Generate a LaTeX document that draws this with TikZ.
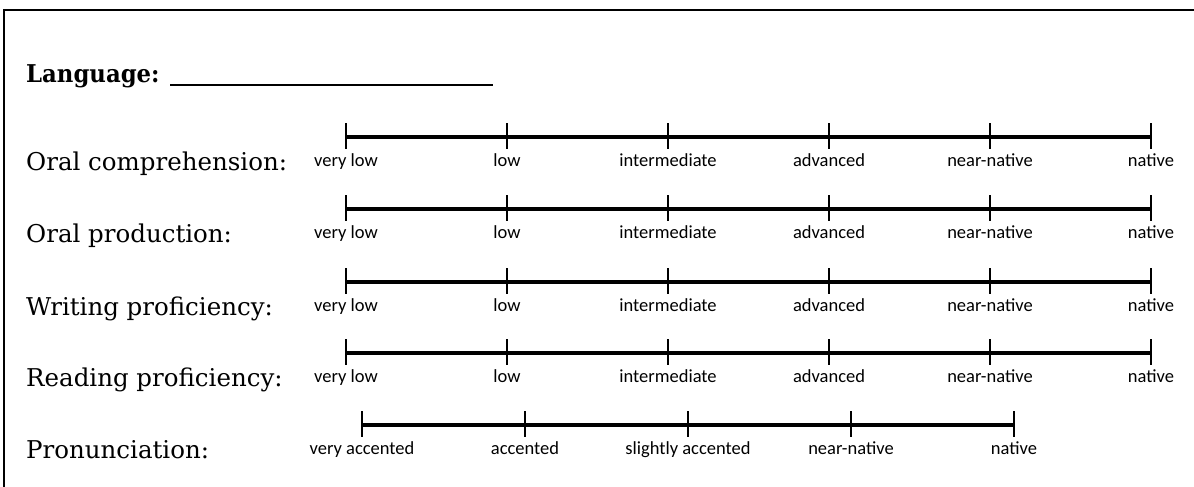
\documentclass[tikz,border=0pt]{standalone}
\usepackage{fontspec}
\setmainfont{DejaVu Serif}
\newfontfamily\calib{Carlito}
\begin{document}
\begin{tikzpicture}[x=1pt,y=-1pt,
  lbl/.style={anchor=base west, inner sep=0pt, font=\fontsize{24.5}{28}\selectfont},
  scl/.style={anchor=base, inner sep=0pt, font=\calib\fontsize{18.5}{22}\selectfont},
  bar/.style={line width=4.2pt},
  tck/.style={line width=2.6pt},
  frame/.style={line width=2pt},
  uline/.style={line width=1.8pt}]
\useasboundingbox (0,0) rectangle (1194,487);
\coordinate (ftl) at (4,10);
\coordinate (ftr) at (1198,10);
\coordinate (fbl) at (4,492);
\draw[frame] (fbl) -- (ftl) -- (ftr);
\node[lbl, font=\bfseries\fontsize{24.5}{28}\selectfont] (lang) at (26,82) {\scalebox{0.93}[1]{Language:}};
\coordinate (ul1) at (170,85);
\coordinate (ul2) at (493,85);
\draw[uline] (ul1) -- (ul2);
\foreach \i/\y/\t in {1/137/Oral comprehension:, 2/209/Oral production:, 3/282/Writing proficiency:, 4/353/Reading proficiency:}{
  \node[lbl] (L\i) at (26,\y+33) {\t};
  \foreach \j/\x/\s in {1/346/very low, 2/507/low, 3/668/intermediate, 4/829/advanced, 5/990/near-native, 6/1151/native}{
    \coordinate (T\i\j) at (\x,\y);
    \draw[tck] ([yshift=14pt]T\i\j) -- ([yshift=-12pt]T\i\j);
    \node[scl] (S\i\j) at (\x,\y+29) {\s};
  }
  \draw[bar] (T\i1) -- (T\i6);
}
\node[lbl] (L5) at (26,458) {Pronunciation:};
\foreach \j/\x/\s in {1/362/very accented, 2/525/accented, 3/688/slightly accented, 4/851/near-native, 5/1014/native}{
  \coordinate (T5\j) at (\x,425);
  \draw[tck] ([yshift=14pt]T5\j) -- ([yshift=-12pt]T5\j);
  \node[scl] (S5\j) at (\x,454) {\s};
}
\draw[bar] (T51) -- (T55);
\end{tikzpicture}
\end{document}
